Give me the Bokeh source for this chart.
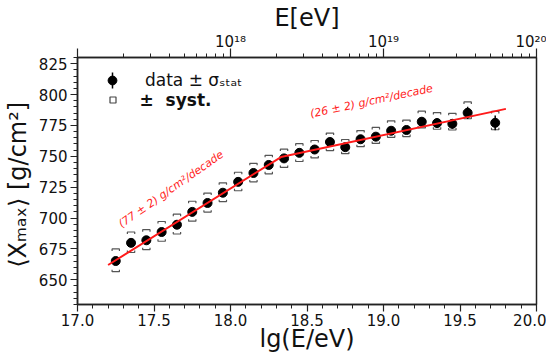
import numpy as np
from bokeh.plotting import figure
from bokeh.models import (Range1d, LogAxis, LogScale, FixedTicker, CustomJSTickFormatter,
                          PrintfTickFormatter, Legend, LegendItem, Label, Arrow)
from bokeh.embed import file_html
from bokeh.resources import INLINE

# ---------------- data ----------------
lg_e = [17.25, 17.35, 17.45, 17.55, 17.65, 17.75, 17.85, 17.95, 18.05, 18.15,
        18.25, 18.35, 18.45, 18.55, 18.65, 18.75, 18.85, 18.95, 19.05, 19.15,
        19.25, 19.35, 19.45, 19.55, 19.73]
xmax = [665.2, 679.9, 682.0, 688.7, 694.6, 705.0, 712.2, 720.5, 729.3, 736.5,
        743.0, 748.3, 752.8, 755.5, 761.6, 757.4, 763.8, 765.9, 770.7, 771.3,
        778.0, 776.9, 776.3, 785.2, 777.1]
stat_err = [2.5, 2.0, 1.8, 1.6, 1.5, 1.5, 1.5, 1.6, 1.7, 1.8,
            1.9, 2.0, 2.1, 2.2, 2.4, 2.5, 2.7, 3.0, 3.0, 3.2,
            3.5, 4.0, 4.0, 5.0, 6.0]
syst_up = [9.8, 8.8, 8.6, 8.5, 8.5, 8.6, 8.0, 8.0, 7.8, 7.8,
           7.8, 7.5, 7.4, 7.3, 7.2, 6.2, 7.0, 7.5, 8.0, 8.0,
           8.5, 8.5, 8.5, 8.8, 9.2]
syst_lo = [8.6, 7.8, 7.6, 7.5, 7.5, 7.5, 7.4, 7.2, 7.2, 7.2,
           7.2, 7.3, 7.0, 6.8, 7.0, 5.3, 6.0, 5.5, 5.3, 5.3,
           5.0, 5.0, 5.0, 4.8, 5.6]

fit_lg = [17.2, 18.33, 19.8]
fit_xmax = [662.0, 749.4, 788.4]

x_major = [17.0, 17.5, 18.0, 18.5, 19.0, 19.5, 20.0]
y_major = [650, 675, 700, 725, 750, 775, 800, 825]
e_major = [1e17, 1e18, 1e19, 1e20]

slope_labels = ["(77 \u00b1 2) g/cm\u00b2/decade", "(26 \u00b1 2) g/cm\u00b2/decade"]
legend_labels = ["data \u00b1 \u03c3\u209b\u209c\u2090\u209c", "\u00b1  syst."]

FONT = "DejaVu Sans"
FRAME_H = 247

# ---------------- figure ----------------
p = figure(frame_width=459, frame_height=FRAME_H, output_backend="svg", toolbar_location=None,
           x_range=Range1d(17.0, 20.0), y_range=Range1d(630, 830),
           min_border_left=72, min_border_right=10, min_border_top=10, min_border_bottom=10)
p.grid.visible = False
p.outline_line_color = "#222222"
p.outline_line_width = 1.5
p.background_fill_color = "white"
p.border_fill_color = "white"

bottom = p.below[0]
left = p.left[0]

x_minor = list(np.round(np.arange(17.0, 20.0001, 0.1), 2))
y_minor = list(range(630, 831, 5))
bottom.ticker = FixedTicker(ticks=x_major, minor_ticks=x_minor)
bottom.formatter = PrintfTickFormatter(format="%.1f")
left.ticker = FixedTicker(ticks=y_major, minor_ticks=y_minor)
bottom.axis_label = "lg(E/eV)"
left.axis_label = "\u27e8X\u2098\u2090\u2093\u27e9  [g/cm\u00b2]"

# top energy axis
p.extra_x_ranges = {"E": Range1d(1e17, 1e20)}
p.extra_x_scales = {"E": LogScale()}
e_minor = [m * 10.0 ** k for k in (17, 18, 19) for m in range(2, 10)]
top = LogAxis(x_range_name="E", ticker=FixedTicker(ticks=e_major, minor_ticks=e_minor),
              axis_label="E[eV]")
top.formatter = CustomJSTickFormatter(code="""
const e = Math.round(Math.log10(tick));
if (e <= 17) { return ""; }
const sup = {"0":"\u2070","1":"\u00b9","2":"\u00b2","3":"\u00b3","4":"\u2074","5":"\u2075","6":"\u2076","7":"\u2077","8":"\u2078","9":"\u2079"};
return "10" + String(e).split("").map(c => sup[c]).join("");
""")
p.add_layout(top, "above")

for ax in [bottom, left, top]:
    ax.axis_line_color = "#222222"
    ax.axis_line_width = 1.5
    ax.major_tick_line_color = "#222222"
    ax.minor_tick_line_color = "#222222"
    ax.major_tick_line_width = 1.2
    ax.minor_tick_line_width = 1.0
    ax.major_tick_in = 0
    ax.minor_tick_in = 0
    ax.major_tick_out = 7
    ax.minor_tick_out = 4
    ax.major_label_text_font = FONT
    ax.major_label_text_font_size = "15px"
    ax.major_label_text_color = "#111111"
    ax.major_label_standoff = 2
    ax.axis_label_text_font = FONT
    ax.axis_label_text_font_size = "24px"
    ax.axis_label_text_font_style = "normal"
    ax.axis_label_text_color = "#111111"
    ax.axis_label_standoff = 0
left.major_label_standoff = 3
left.axis_label_standoff = 4
top.major_tick_out = 9
top.major_label_standoff = -2
top.axis_label_standoff = -2
bottom.axis_label_standoff = -4

# ---------------- glyphs ----------------
lg = np.array(lg_e)
xm = np.array(xmax)
st = np.array(stat_err)
su = np.array(syst_up)
sl = np.array(syst_lo)

d = 0.024   # half width of systematic bracket (lg units)
h = 1.6     # hook length of bracket (g/cm^2)
xs, ys = [], []
for xi, yi, u, l in zip(lg, xm, su, sl):
    xs.append([xi - d, xi - d, xi + d, xi + d])
    ys.append([yi + u - h, yi + u, yi + u, yi + u - h])
    xs.append([xi - d, xi - d, xi + d, xi + d])
    ys.append([yi - l + h, yi - l, yi - l, yi - l + h])
p.multi_line(xs, ys, line_color="#555555", line_width=1.2)

p.segment(x0=lg, y0=xm - st, x1=lg, y1=xm + st, line_color="black", line_width=1.5)
p.scatter(lg, xm, marker="circle", size=9, fill_color="black", line_color="black")
p.line(fit_lg, fit_xmax, line_color="#ff1a1a", line_width=2)

p.add_layout(Label(x=17.30, y=690, text=slope_labels[0], angle=35, angle_units="deg",
                   text_color="#ff2222", text_font=FONT, text_font_size="11px",
                   text_font_style="italic"))
p.add_layout(Label(x=18.53, y=779, text=slope_labels[1], angle=12, angle_units="deg",
                   text_color="#ff2222", text_font=FONT, text_font_size="11px",
                   text_font_style="italic"))

# ---------------- legends (symbol-only renderers, nothing drawn in the plot) ----------------
nan = [np.nan]
leg_dot = p.scatter(x=nan, y=nan, marker="circle", fill_color="black", line_color="black")
leg_sys = p.scatter(x=nan, y=nan, marker="square", fill_alpha=0,
                    line_color="#444444", line_width=1.2)

def make_legend(label, renderers, loc, gsize, standoff, style):
    lg_ = Legend(items=[LegendItem(label=label, renderers=renderers)], location=loc,
                 border_line_alpha=0, background_fill_alpha=0, padding=0, margin=0,
                 spacing=0, glyph_width=gsize, glyph_height=gsize, label_height=gsize,
                 label_standoff=standoff, label_text_font=FONT,
                 label_text_font_size="17px", label_text_font_style=style,
                 label_text_color="#111111")
    p.add_layout(lg_)

# symbol centres: 35 px right of the frame's left edge, 23 / 45 px below its top
cy1 = FRAME_H - 23
cy2 = FRAME_H - 45
make_legend(legend_labels[0], [leg_dot], (35 - 11, cy1 - 11), 22, 22, "normal")
make_legend(legend_labels[1], [leg_sys], (35 - 7.5, cy2 - 7.5), 15, 20, "bold")
# vertical error bar of the legend's data symbol
p.add_layout(Arrow(x_start=35, y_start=cy1 - 8, x_end=35, y_end=cy1 + 8,
                   start_units="screen", end_units="screen", start=None, end=None,
                   line_color="black", line_width=1.5))

open("out.html", "w").write(file_html(p, INLINE))
